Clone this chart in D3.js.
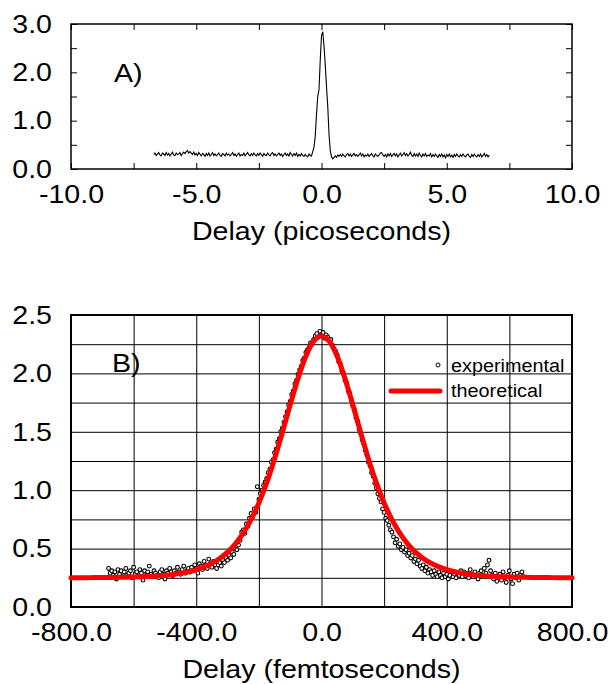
<!DOCTYPE html>
<html>
<head>
<meta charset="utf-8">
<script src="https://cdn.jsdelivr.net/npm/d3@7"></script>
<style>
  body { margin: 0; background: #fff; }
</style>
</head>
<body>
<svg id="chart" width="610" height="684"></svg>
<script>
// panel A: autocorrelation trace, sampled every 0.05 ps from -6.7 ps
const traceStart = -6.7
const traceStep = 0.05
const traceValues = [
  0.30,0.33,0.28,0.31,0.34,0.29,0.27,0.33,0.31,0.28,
  0.34,0.29,0.32,0.27,0.31,0.35,0.29,0.28,0.33,0.30,
  0.31,0.34,0.28,0.32,0.35,0.32,0.36,0.38,0.33,0.36,
  0.33,0.30,0.35,0.29,0.32,0.28,0.34,0.31,0.27,0.32,
  0.30,0.26,0.32,0.28,0.33,0.27,0.30,0.34,0.28,0.31,
  0.27,0.30,0.33,0.28,0.26,0.32,0.30,0.27,0.33,0.29,
  0.31,0.27,0.30,0.34,0.28,0.31,0.26,0.30,0.33,0.27,
  0.30,0.28,0.33,0.27,0.31,0.34,0.29,0.27,0.32,0.28,
  0.33,0.29,0.27,0.32,0.28,0.33,0.30,0.26,0.32,0.29,
  0.28,0.33,0.29,0.27,0.32,0.34,0.28,0.31,0.27,0.30,
  0.33,0.28,0.31,0.26,0.30,0.33,0.28,0.31,0.27,0.34,
  0.30,0.27,0.32,0.28,0.33,0.26,0.30,0.27,0.32,0.28,
  0.26,0.30,0.27,0.25,0.31,0.28,0.27,0.36,0.45,0.68,
  1.12,1.50,1.64,2.25,2.76,2.84,2.55,2.15,1.70,1.29,
  0.72,0.38,0.25,0.21,0.24,0.27,0.24,0.29,0.26,0.30,
  0.26,0.31,0.27,0.25,0.30,0.32,0.27,0.31,0.26,0.29,
  0.32,0.27,0.30,0.26,0.29,0.33,0.27,0.31,0.25,0.29,
  0.27,0.31,0.26,0.29,0.32,0.27,0.25,0.31,0.28,0.26,
  0.29,0.33,0.34,0.29,0.26,0.30,0.25,0.31,0.27,0.32,
  0.26,0.29,0.32,0.27,0.31,0.25,0.29,0.33,0.27,0.30,
  0.34,0.28,0.32,0.27,0.30,0.35,0.28,0.26,0.32,0.27,
  0.31,0.26,0.33,0.28,0.25,0.31,0.27,0.32,0.26,0.29,
  0.27,0.32,0.25,0.30,0.26,0.31,0.27,0.24,0.30,0.26,
  0.31,0.25,0.29,0.23,0.30,0.26,0.31,0.25,0.29,0.24,
  0.30,0.26,0.31,0.27,0.25,0.30,0.26,0.31,0.27,0.25,
  0.29,0.31,0.26,0.24,0.30,0.26,0.31,0.27,0.25,0.30,
  0.26,0.31,0.25,0.28,0.32,0.26,0.30,0.25,0.29
]

// panel B: experimental points every 5 fs from -680 fs
const expStart = -680
const expStep = 5
const expValues = [
  0.33,0.29,0.31,0.27,0.30,0.24,0.32,0.28,0.31,0.26,
  0.30,0.33,0.27,0.29,0.31,0.25,0.34,0.28,0.30,0.26,
  0.32,0.29,0.23,0.31,0.27,0.30,0.35,0.28,0.26,0.31,
  0.29,0.27,0.25,0.30,0.32,0.28,0.24,0.31,0.29,0.33,
  0.30,0.27,0.31,0.29,0.34,0.30,0.28,0.32,0.35,0.29,
  0.31,0.33,
  0.30,0.34,0.31,0.36,0.33,0.29,0.37,0.35,0.32,0.39,
  0.36,0.33,0.41,0.37,0.34,0.39,0.36,0.33,
  0.36,0.38,0.35,0.40,0.38,0.42,0.40,0.44,0.42,0.47,
  0.45,0.50,0.49,0.53,0.57,
  0.64,0.66,0.63,0.71,0.69,0.76,0.80,0.77,0.84,0.81,
  1.03,0.92,0.97,1.00,1.04,1.07,1.10,1.15,1.18,1.24,
  1.26,1.32,1.35,1.41,1.44,1.50,1.53,1.58,1.63,1.67,
  1.73,1.76,1.82,1.85,1.91,1.94,1.99,2.03,2.06,2.11,
  2.13,2.18,
  2.20,2.22,2.26,2.25,2.29,2.32,2.34,2.31,2.36,2.33,
  2.35,2.30,2.33,2.31,2.28,2.29,2.24,2.21,2.19,
  2.16,2.10,2.08,2.02,2.00,1.94,1.92,1.85,1.83,1.77,
  1.72,1.69,1.62,1.59,1.52,1.49,1.43,1.40,1.34,1.30,
  1.24,1.21,1.15,1.12,1.06,1.02,0.97,
  0.93,0.90,0.84,0.81,0.76,0.74,0.70,0.66,0.64,0.60,
  0.55,0.58,0.52,0.54,0.49,0.51,0.47,0.49,0.44,0.46,
  0.42,0.44,0.39,0.41,0.37,0.40,0.35,0.33,0.36,0.31,
  0.34,0.29,0.32,0.30,0.27,0.31,0.28,0.26,0.30,0.27,
  0.25,0.29,0.26,0.28,0.24,0.27,0.30,0.26,0.28,0.25,
  0.29,0.27,0.31,0.26,
  0.30,0.27,0.29,0.25,0.32,0.28,0.26,0.30,0.27,0.24,
  0.29,0.31,0.27,0.33,0.29,0.36,0.40,0.31,0.27,0.24,
  0.29,0.22,0.26,0.28,0.23,0.30,0.25,0.21,0.27,0.31,
  0.24,0.20,0.28,0.25,0.29,0.23,0.27,0.30,0.26
]

// panel B: theoretical fit every 25 fs from -800 fs
const theoStart = -800
const theoStep = 25
const theoValues = [
  0.251,0.251,0.251,0.252,0.252,0.253,0.254,0.255,0.257,0.259,
  0.262,0.266,0.271,0.279,0.289,0.302,0.320,0.343,0.374,0.416,
  0.470,0.541,0.632,0.748,0.891,1.065,1.268,1.494,1.731,1.957,
  2.147,2.275,2.320,2.275,2.147,1.957,1.731,1.494,1.268,1.065,
  0.891,0.748,0.632,0.541,0.470,0.416,0.374,0.343,0.320,0.302,
  0.289,0.279,0.271,0.266,0.262,0.259,0.257,0.255,0.254,0.253,
  0.252,0.252,0.251,0.251,0.251
]

const xTicksA = [-10, -7.5, -5, -2.5, 0, 2.5, 5, 7.5, 10]
const xLabelsA = [-10, -5, 0, 5, 10]
const yTicksA = [0, 0.5, 1, 1.5, 2, 2.5, 3]
const yLabelsA = [0, 1, 2, 3]
const xTicksB = [-800, -600, -400, -200, 0, 200, 400, 600, 800]
const xLabelsB = [-800, -400, 0, 400, 800]
const yTicksB = [0, 0.25, 0.5, 0.75, 1, 1.25, 1.5, 1.75, 2, 2.25, 2.5]
const yLabelsB = [0, 0.5, 1, 1.5, 2, 2.5]

const FONT = '"Liberation Sans", Arial, Helvetica, sans-serif'
const svg = d3.select("#chart")

const fmt = labels => d => labels.includes(d) ? d.toFixed(1) : ""

function styleAxis(g) {
  g.attr("font-size", 26).attr("font-family", FONT)
  g.select(".domain").remove()
  g.selectAll("text").attr("fill", "#000")
}

/* ---------- panel A ---------- */
const xA = d3.scaleLinear().domain([-10, 10]).range([71, 572])
const yA = d3.scaleLinear().domain([0, 3]).range([169, 24])

svg.append("g")
  .attr("transform", "translate(0,169)")
  .call(d3.axisBottom(xA).tickValues(xTicksA).tickSize(-6).tickPadding(16).tickFormat(fmt(xLabelsA)))
  .call(styleAxis)
svg.append("g")
  .attr("transform", "translate(0,24)")
  .call(d3.axisTop(xA).tickValues(xTicksA).tickSize(-6).tickFormat(""))
  .call(styleAxis)
svg.append("g")
  .attr("transform", "translate(71,0)")
  .call(d3.axisLeft(yA).tickValues(yTicksA).tickSize(-6).tickPadding(19).tickFormat(fmt(yLabelsA)))
  .call(styleAxis)
svg.append("g")
  .attr("transform", "translate(572,0)")
  .call(d3.axisRight(yA).tickValues(yTicksA).tickSize(-6).tickFormat(""))
  .call(styleAxis)

svg.append("rect")
  .attr("x", xA(-10)).attr("y", yA(3))
  .attr("width", xA(10) - xA(-10)).attr("height", yA(0) - yA(3))
  .attr("fill", "none").attr("stroke", "#000").attr("stroke-width", 1.5)

const lineA = d3.line()
  .x((d, i) => xA(traceStart + i * traceStep))
  .y(d => yA(d))

svg.append("path")
  .datum(traceValues)
  .attr("d", lineA)
  .attr("fill", "none")
  .attr("stroke", "#000")
  .attr("stroke-width", 1.1)

svg.append("text")
  .attr("x", 114).attr("y", 82)
  .attr("font-size", 26).attr("font-family", FONT)
  .text("A)")

svg.append("text")
  .attr("x", (xA(-10) + xA(10)) / 2).attr("y", 240)
  .attr("text-anchor", "middle")
  .attr("font-size", 26).attr("font-family", FONT)
  .text("Delay (picoseconds)")

/* ---------- panel B ---------- */
const xB = d3.scaleLinear().domain([-800, 800]).range([71, 572])
const yB = d3.scaleLinear().domain([0, 2.5]).range([607, 315])

svg.append("g")
  .attr("transform", "translate(0,607)")
  .call(d3.axisBottom(xB).tickValues(xTicksB).tickSize(-(607 - 315)).tickPadding(16).tickFormat(fmt(xLabelsB)))
  .call(styleAxis)
svg.append("g")
  .attr("transform", "translate(71,0)")
  .call(d3.axisLeft(yB).tickValues(yTicksB).tickSize(-(572 - 71)).tickPadding(19).tickFormat(fmt(yLabelsB)))
  .call(styleAxis)

svg.append("rect")
  .attr("x", xB(-800)).attr("y", yB(2.5))
  .attr("width", xB(800) - xB(-800)).attr("height", yB(0) - yB(2.5))
  .attr("fill", "none").attr("stroke", "#000").attr("stroke-width", 2)

svg.append("g")
  .selectAll("circle")
  .data(expValues)
  .join("circle")
  .attr("cx", (d, i) => xB(expStart + i * expStep))
  .attr("cy", d => yB(d))
  .attr("r", 1.9)
  .attr("fill", "#fff")
  .attr("stroke", "#000")
  .attr("stroke-width", 1.1)

const lineB = d3.line()
  .x((d, i) => xB(theoStart + i * theoStep))
  .y(d => yB(d))
  .curve(d3.curveMonotoneX)

svg.append("path")
  .datum(theoValues)
  .attr("d", lineB)
  .attr("fill", "none")
  .attr("stroke", "#ff0000")
  .attr("stroke-width", 5)
  .attr("stroke-linecap", "round")

svg.append("text")
  .attr("x", 112).attr("y", 372)
  .attr("font-size", 26).attr("font-family", FONT)
  .text("B)")

// legend
const legend = svg.append("g").attr("font-size", 18).attr("font-family", FONT)
legend.append("circle")
  .attr("cx", 438).attr("cy", 365).attr("r", 2)
  .attr("fill", "#fff").attr("stroke", "#000").attr("stroke-width", 1)
legend.append("text").attr("x", 451).attr("y", 372).text("experimental")
legend.append("line")
  .attr("x1", 391).attr("x2", 440).attr("y1", 391).attr("y2", 391)
  .attr("stroke", "#ff0000").attr("stroke-width", 5).attr("stroke-linecap", "round")
legend.append("text").attr("x", 451).attr("y", 397).text("theoretical")

svg.append("text")
  .attr("x", (xB(-800) + xB(800)) / 2).attr("y", 678)
  .attr("text-anchor", "middle")
  .attr("font-size", 26).attr("font-family", FONT)
  .text("Delay (femtoseconds)")

// the original lettering is a little wider than Arial metrics
svg.selectAll("text").each(function() {
  const w = this.getComputedTextLength()
  if (w > 0) {
    d3.select(this)
      .attr("textLength", w * 1.1)
      .attr("lengthAdjust", "spacingAndGlyphs")
  }
})
</script>
</body>
</html>
